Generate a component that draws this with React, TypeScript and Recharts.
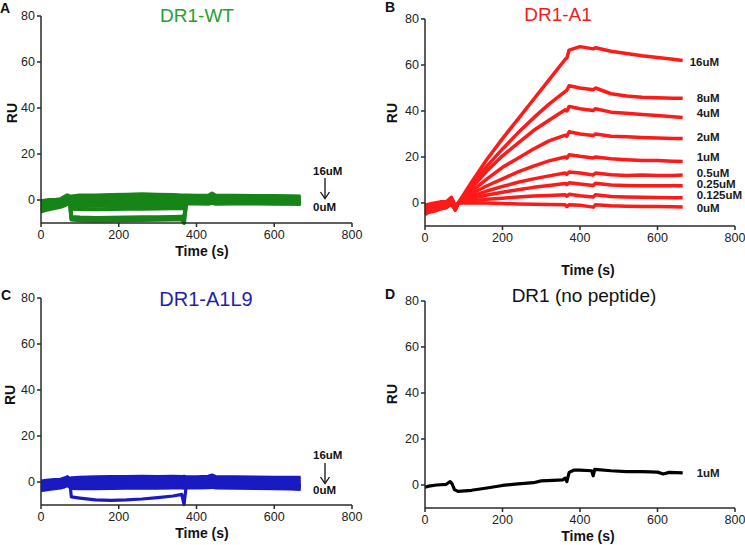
import React from "react";
import { LineChart, Line, XAxis, YAxis, LabelList } from "recharts";

// concentrations, lowest first
const concKeys = ["0uM", "0.125uM", "0.25uM", "0.5uM", "1uM", "2uM", "4uM", "8uM", "16uM"];

// ---- A / C : DR1-WT and DR1-A1L9 (no binding) ----
const timeCtrl = [0, 8, 20, 35, 50, 62, 68, 74, 78, 100, 140, 180, 220, 260, 300, 340, 362, 368, 374, 400, 430, 440, 450, 500, 550, 600, 640, 668];

const wt0 = [-1, -0.8, -0.5, -0.3, 0, 0.5, 1, 0.5, -8.5, -8.8, -9, -8.9, -8.8, -8.7, -8.6, -8.5, -8.4, -10, 0, 0.2, 0.2, 0.8, 0.3, 0.4, 0.5, 0.5, 0.6, 0.6];
const wt0125 = [-3, -2.8, -2.5, -2.2, -1.8, -1, -0.2, -0.8, -7.4, -7.6, -7.8, -7.7, -7.6, -7.5, -7.5, -7.4, -7.3, -7.5, -1.5, -1.5, -1.6, -1.2, -1.6, -1.5, -1.5, -1.6, -1.6, -1.7];
const wt025 = [-2, -1.8, -1.6, -1.4, -1, -0.5, 0.5, 0, -3.8, -3.9, -4, -3.9, -3.8, -3.8, -3.7, -3.6, -3.5, -3.6, -1, -0.8, -0.8, -0.3, -0.8, -0.7, -0.6, -0.6, -0.5, -0.5];
const wt05 = [-5, -4.5, -4, -3.5, -3, -2.2, -1.5, -2, -2.4, -2.5, -2.5, -2.4, -2.3, -2.4, -2.5, -2.6, -2.7, -2.7, -1.2, -1.2, -1.3, -1, -1.3, -1.2, -1.3, -1.3, -1.4, -1.4];
const wt1 = [-4.5, -4, -3.6, -3.2, -2.6, -1.8, -1, -1.5, -1.6, -1.7, -1.6, -1.5, -1.4, -1.4, -1.5, -1.6, -1.7, -1.7, -0.8, -0.8, -0.9, -0.5, -0.9, -0.8, -0.8, -0.9, -0.9, -1];
const wt2 = [-3.5, -3, -2.8, -2.4, -2, -1.2, -0.5, -1, -0.8, -0.8, -0.6, -0.5, -0.4, -0.4, -0.5, -0.5, -0.6, -0.6, -0.3, -0.3, -0.4, 0, -0.4, -0.3, -0.3, -0.4, -0.4, -0.4];
const wt4 = [-2.5, -2.2, -2, -1.6, -1.2, -0.5, 0.2, -0.2, 0, 0.2, 0.4, 0.5, 0.6, 0.6, 0.5, 0.5, 0.4, 0.4, 0.3, 0.3, 0.2, 0.8, 0.2, 0.2, 0.3, 0.2, 0.2, 0.2];
const wt8 = [-1.5, -1.2, -1, -0.8, -0.5, 0.5, 1, 0.5, 0.8, 1, 1.2, 1.3, 1.4, 1.5, 1.4, 1.3, 1.2, 1.2, 1, 1, 1, 1.8, 1, 1, 1, 1, 0.9, 0.8];
const wt16 = [-0.5, -0.3, 0, 0, 0.3, 1.5, 2, 1.5, 1.5, 2, 2, 2.2, 2.3, 2.5, 2.3, 2.2, 2, 2, 2, 1.8, 1.8, 2.8, 1.8, 1.8, 1.7, 1.7, 1.6, 1.5];

const l9_0 = [-3, -2.8, -2.5, -2.2, -1.8, -1.2, -0.6, -1.5, -1.6, -1.5, -1.4, -1.3, -1.2, -1.2, -1.3, -1.3, -1.4, -1.3, -1.6, -1.6, -1.5, -1.2, -1.6, -1.6, -1.7, -1.8, -1.9, -2];
const l9_0125 = [-1, -0.8, -0.6, -0.4, -0.2, 0.5, 1, 0.2, -6.5, -7, -7.8, -8, -7.8, -7.4, -6.8, -6.1, -5.4, -9.8, -1, -0.8, -0.7, -0.3, -0.7, -0.8, -0.9, -1, -1.1, -1.2];
const l9_025 = [-2, -1.8, -1.6, -1.4, -1.2, -0.6, -0.2, -1, -2.8, -2.9, -2.9, -2.8, -2.7, -2.7, -2.7, -2.6, -2.6, -2.7, -2.6, -2.6, -2.5, -2.3, -2.6, -2.7, -2.8, -2.9, -3, -3.2];
const l9_05 = [-3.8, -3.5, -3.2, -2.9, -2.6, -2, -1.5, -2.3, -2.1, -2, -1.9, -1.8, -1.7, -1.7, -1.7, -1.8, -1.9, -1.8, -2, -2, -1.9, -1.6, -2, -2, -2.1, -2.2, -2.4, -2.6];
const l9_1 = [-3.2, -3, -2.7, -2.4, -2.1, -1.5, -1, -1.8, -1.4, -1.2, -1.1, -1, -0.9, -0.9, -0.9, -1, -1.1, -1, -1.2, -1.2, -1.1, -0.8, -1.2, -1.2, -1.3, -1.4, -1.5, -1.6];
const l9_2 = [-2.5, -2.2, -2, -1.7, -1.4, -0.8, -0.3, -1, -0.6, -0.4, -0.3, -0.2, -0.1, -0.1, -0.1, -0.2, -0.3, -0.2, -0.4, -0.4, -0.3, 0, -0.4, -0.4, -0.5, -0.6, -0.6, -0.7];
const l9_4 = [-1.5, -1.3, -1, -0.8, -0.6, 0, 0.5, -0.2, 0.2, 0.4, 0.5, 0.6, 0.7, 0.7, 0.7, 0.7, 0.6, 0.7, 0.5, 0.5, 0.6, 1, 0.5, 0.5, 0.4, 0.3, 0.3, 0.2];
const l9_8 = [-0.5, -0.3, 0, 0.2, 0.4, 1, 1.5, 0.8, 1, 1.2, 1.3, 1.4, 1.5, 1.5, 1.5, 1.5, 1.4, 1.5, 1.3, 1.3, 1.5, 2, 1.3, 1.3, 1.2, 1.2, 1.1, 1];
const l9_16 = [0.5, 0.6, 0.8, 1, 1.2, 1.8, 2.3, 1.5, 1.8, 2, 2.2, 2.3, 2.4, 2.5, 2.4, 2.5, 2.3, 2.5, 2.2, 2.2, 2.5, 3, 2.3, 2.2, 2.1, 2, 2, 2];

// ---- B : DR1-A1 ----
const timeA1 = [0, 10, 25, 40, 55, 68, 72, 78, 86, 120, 160, 200, 240, 280, 320, 362, 366, 372, 400, 434, 440, 480, 520, 560, 600, 640, 665];

const a1_0 = [-4, -3.5, -3, -2.5, -2, -0.5, -1.5, -2.5, 0, 0, 0, -0.2, -0.4, -0.5, -0.6, -0.8, -1.6, -0.8, -1, -1.8, -0.8, -1.2, -1.4, -1.5, -1.5, -1.6, -1.7];
const a1_0125 = [-3.5, -3, -2.5, -2, -1, 0.5, -0.5, -2.5, 0, 1, 1.6, 2.1, 2.6, 3, 3.3, 3.6, 3, 3.8, 3.2, 2.6, 3.6, 2.8, 2.6, 2.5, 2.4, 2.3, 2.3];
const a1_025 = [-1.5, -1, -0.5, 0, 0, 2, 1, -1.5, 0, 2, 3.5, 4.7, 5.8, 6.8, 7.6, 8.5, 8, 8.8, 8.3, 7.6, 8.6, 7.8, 7.6, 7.5, 7.5, 7.5, 7.5];
const a1_05 = [-2.5, -2, -1.5, -1, -0.5, 1.5, 0.5, -2, 0, 3, 5.2, 7.2, 9, 10.5, 11.8, 13, 12.5, 13.5, 13, 12.2, 13, 12.3, 12, 12.2, 12, 12, 12.2];
const a1_1 = [-5, -4, -3.5, -2.5, -2, 0.5, -1, -3, 0, 4, 7.5, 10.5, 13.5, 16, 18.3, 20, 19.5, 21, 20.3, 19.6, 20, 19.2, 18.8, 18.5, 18.5, 18.2, 18];
const a1_2 = [-4, -3.5, -3, -2, -1.5, 1, -0.5, -3, 0, 5, 10.5, 15.5, 19.5, 23.5, 27, 29.5, 29, 31, 30, 29.3, 30, 29, 28.8, 28.5, 28.3, 28, 28];
const a1_4 = [-3, -2.5, -2, -1.5, -1, 1.5, 0, -3, 0, 6.5, 14, 20.5, 26, 31.5, 36, 40.5, 40, 42, 41, 40.2, 41, 39.5, 39, 38.5, 38, 37.5, 37.2];
const a1_8 = [-2, -1.5, -1, -0.5, 0, 2, 0.5, -2.5, 0, 8, 16, 23.5, 30.5, 37, 43, 48.5, 49, 51, 50, 49.2, 50, 47.5, 46.5, 46, 45.8, 45.5, 45.5];
const a1_16 = [-1, -0.5, 0, 0.5, 0.5, 2.5, 1, -2, 0, 9, 19, 28, 36.5, 45, 53.5, 62.5, 63, 66.5, 68, 67, 67.5, 66, 65, 64, 63.3, 62.5, 62];

// ---- D : DR1 (no peptide) ----
const timeNoPep = [0, 10, 30, 55, 65, 70, 76, 85, 120, 160, 200, 240, 280, 300, 330, 355, 362, 366, 372, 385, 400, 430, 434, 438, 480, 520, 560, 600, 615, 630, 665];
const noPep1 = [-1, -0.5, 0, 0.3, 1.5, 0.5, -2, -2.8, -2.3, -1.3, -0.2, 0.5, 1, 1.8, 2, 2.2, 3, 1.5, 5.5, 6.5, 6.5, 6.2, 4, 6.8, 6.2, 5.8, 5.8, 5.6, 4.8, 5.5, 5.3];

const xTicks = [0, 200, 400, 600, 800];
const yTicks = [0, 20, 40, 60, 80];

const toRows = (time: number[], keys: string[], series: number[][]) =>
  time.map((t, i) => {
    const row: any = { t };
    keys.forEach((k, j) => (row[k] = series[j][i]));
    return row;
  });

const dataWT = toRows(timeCtrl, concKeys, [wt0, wt0125, wt025, wt05, wt1, wt2, wt4, wt8, wt16]);
const dataL9 = toRows(timeCtrl, concKeys, [l9_0, l9_0125, l9_025, l9_05, l9_1, l9_2, l9_4, l9_8, l9_16]);
const dataA1 = toRows(timeA1, concKeys, [a1_0, a1_0125, a1_025, a1_05, a1_1, a1_2, a1_4, a1_8, a1_16]);
const dataNoPep = toRows(timeNoPep, ["1uM"], [noPep1]);

// label nudges for the end-of-curve concentration labels (px)
const endLabelShift: Record<string, [number, number]> = {
  "16uM": [7, 2],
  "8uM": [14, 0],
  "4uM": [14, -4],
  "2uM": [14, -2],
  "1uM": [14, -5],
  "0.5uM": [14, -2],
  "0.25uM": [14, -2],
  "0.125uM": [14, -3],
  "0uM": [14, 1],
};

const FONT = "'Liberation Sans', Arial, sans-serif";
const AXIS = "#2a2a2a";

const endLabel = (name: string, last: number, shift: [number, number]) => (props: any) => {
  const { x, y, index } = props;
  if (index !== last) return null;
  return (
    <text x={x + shift[0]} y={y + shift[1]} dy="0.35em" fontSize={11.5} fontWeight="bold" fill="#1a1a1a" fontFamily={FONT}>
      {name}
    </text>
  );
};

type PanelProps = {
  data: any[];
  keys: string[];
  color: string;
  width: number;
  height: number;
  margin: { top: number; right: number; left: number; bottom: number };
  yWidth: number;
  strokeWidth: number;
  labels?: boolean;
  shifts?: Record<string, [number, number]>;
};

const Panel = ({ data, keys, color, width, height, margin, yWidth, strokeWidth, labels, shifts }: PanelProps) => (
  <LineChart width={width} height={height} data={data} margin={margin} style={{ fontFamily: FONT }}>
    <XAxis
      dataKey="t"
      type="number"
      domain={[0, 800]}
      ticks={xTicks}
      height={30}
      tickSize={4}
      tickMargin={3}
      axisLine={{ stroke: AXIS, strokeWidth: 1.5 }}
      tickLine={{ stroke: AXIS, strokeWidth: 1.5 }}
      tick={{ fill: "#222", fontSize: 12.5 }}
    />
    <YAxis
      type="number"
      domain={[-10, 80]}
      ticks={yTicks}
      width={yWidth}
      tickSize={4}
      tickMargin={2}
      axisLine={{ stroke: AXIS, strokeWidth: 1.5 }}
      tickLine={{ stroke: AXIS, strokeWidth: 1.5 }}
      tick={{ fill: "#222", fontSize: 12.5 }}
    />
    {keys.map((k) => (
      <Line
        key={k}
        dataKey={k}
        type="linear"
        stroke={color}
        strokeWidth={strokeWidth}
        dot={false}
        isAnimationActive={false}
        strokeLinejoin="round"
      >
        {labels && <LabelList dataKey={k} content={endLabel(k, data.length - 1, (shifts || {})[k] || [14, 0])} />}
      </Line>
    ))}
  </LineChart>
);

const Overlay = () => (
  <svg width={745} height={545} style={{ position: "absolute", left: 0, top: 0, pointerEvents: "none" }} fontFamily={FONT}>
    {/* panel letters */}
    <text x={0} y={13} fontSize={14} fontWeight="bold" fill="#111">A</text>
    <text x={385} y={12} fontSize={14} fontWeight="bold" fill="#111">B</text>
    <text x={1} y={300} fontSize={14} fontWeight="bold" fill="#111">C</text>
    <text x={385} y={299} fontSize={14} fontWeight="bold" fill="#111">D</text>
    {/* titles */}
    <text x={197} y={22} fontSize={19} textAnchor="middle" fill="#24a02c">DR1-WT</text>
    <text x={558} y={21} fontSize={19} textAnchor="middle" fill="#f01c1c">DR1-A1</text>
    <text x={206} y={306} fontSize={20} textAnchor="middle" fill="#1f1fae">DR1-A1L9</text>
    <text x={584} y={302} fontSize={19} textAnchor="middle" fill="#111">DR1 (no peptide)</text>
    {/* axis titles */}
    {[
      [12, 113],
      [392, 113],
      [10, 395],
      [392, 394],
    ].map(([x, y], i) => (
      <text key={"ru" + i} x={x} y={y} fontSize={14} fontWeight="bold" fill="#111" textAnchor="middle" dy="0.35em" transform={`rotate(-90 ${x} ${y})`}>
        RU
      </text>
    ))}
    {[
      [202, 256],
      [588, 275],
      [202, 538],
      [588, 541],
    ].map(([x, y], i) => (
      <text key={"tx" + i} x={x} y={y} fontSize={14} fontWeight="bold" fill="#111" textAnchor="middle">
        Time (s)
      </text>
    ))}
    {/* A / C concentration range notes */}
    <text x={313} y={175} fontSize={11.5} fontWeight="bold" fill="#111">16uM</text>
    <line x1={325} y1={178} x2={325} y2={198} stroke="#111" strokeWidth={1.3} />
    <path d="M320.5,192 L325,198.5 L329.5,192" fill="none" stroke="#111" strokeWidth={1.3} />
    <text x={313} y={211} fontSize={11.5} fontWeight="bold" fill="#111">0uM</text>
    <text x={313} y={459} fontSize={11.5} fontWeight="bold" fill="#111">16uM</text>
    <line x1={325} y1={463} x2={325} y2={483} stroke="#111" strokeWidth={1.3} />
    <path d="M320.5,477 L325,483.5 L329.5,477" fill="none" stroke="#111" strokeWidth={1.3} />
    <text x={313} y={494} fontSize={11.5} fontWeight="bold" fill="#111">0uM</text>
  </svg>
);

export default function App() {
  return (
    <div style={{ position: "absolute", left: 0, top: 0, width: 745, height: 545, background: "#fff", fontFamily: FONT }}>
      <div style={{ position: "absolute", left: 0, top: 0 }}>
        <Panel data={dataWT} keys={concKeys} color="#178417" width={372} height={272} margin={{ top: 16, right: 20, left: 0, bottom: 19 }} yWidth={41} strokeWidth={4} />
      </div>
      <div style={{ position: "absolute", left: 372, top: 0 }}>
        <Panel data={dataA1} keys={concKeys} color="#ff1a1a" width={373} height={272} margin={{ top: 19, right: 10, left: 0, bottom: 16 }} yWidth={53} strokeWidth={3.5} labels shifts={endLabelShift} />
      </div>
      <div style={{ position: "absolute", left: 0, top: 272 }}>
        <Panel data={dataL9} keys={concKeys} color="#1a1ac2" width={372} height={273} margin={{ top: 26, right: 20, left: 0, bottom: 10 }} yWidth={41} strokeWidth={3.2} />
      </div>
      <div style={{ position: "absolute", left: 372, top: 272 }}>
        <Panel data={dataNoPep} keys={["1uM"]} color="#000" width={373} height={273} margin={{ top: 29, right: 10, left: 0, bottom: 7 }} yWidth={53} strokeWidth={3.2} labels shifts={{ "1uM": [14, 0] }} />
      </div>
      <Overlay />
    </div>
  );
}
